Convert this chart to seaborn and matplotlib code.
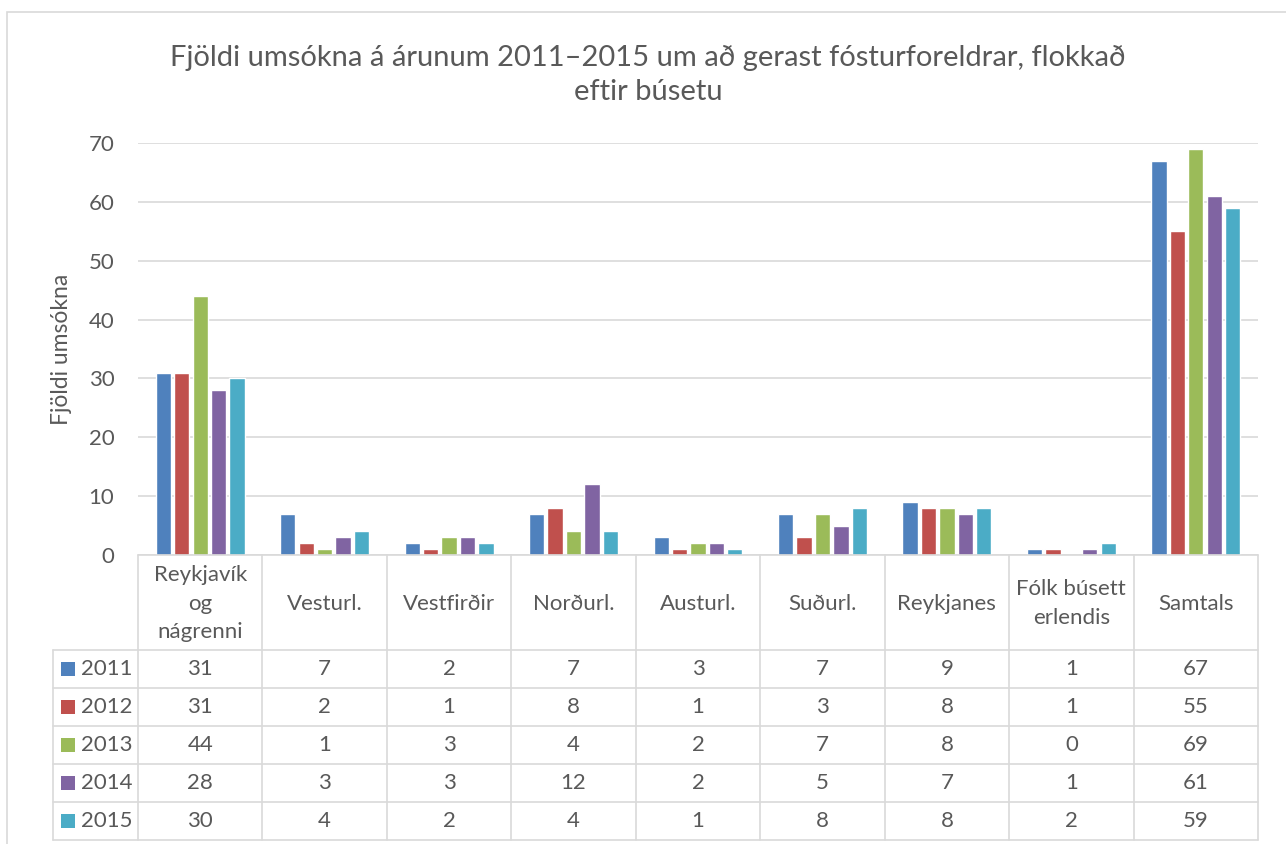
import matplotlib
matplotlib.use("Agg")
import matplotlib.pyplot as plt
from matplotlib.lines import Line2D
from matplotlib.patches import Rectangle
import seaborn as sns
import pandas as pd

categories = ["Reykjavík\nog\nnágrenni", "Vesturl.", "Vestfirðir", "Norðurl.", "Austurl.",
              "Suðurl.", "Reykjanes", "Fólk búsett\nerlendis", "Samtals"]
years = ["2011", "2012", "2013", "2014", "2015"]
v2011 = [31, 7, 2, 7, 3, 7, 9, 1, 67]
v2012 = [31, 2, 1, 8, 1, 3, 8, 1, 55]
v2013 = [44, 1, 3, 4, 2, 7, 8, 0, 69]
v2014 = [28, 3, 3, 12, 2, 5, 7, 1, 61]
v2015 = [30, 4, 2, 4, 1, 8, 8, 2, 59]
series = [v2011, v2012, v2013, v2014, v2015]
colors = ["#4F81BD", "#C0504D", "#9BBB59", "#8064A2", "#4BACC6"]
yticks = [0, 10, 20, 30, 40, 50, 60, 70]
title = "Fjöldi umsókna á árunum 2011–2015 um að gerast fósturforeldrar, flokkað\neftir búsetu"
ylabel = "Fjöldi umsókna"

rows = []
for y, vals in zip(years, series):
    for c, v in zip(categories, vals):
        rows.append({"cat": c, "year": y, "value": v})
df = pd.DataFrame(rows)

sns.set_theme(style="white")
plt.rcParams["font.family"] = ["Lato", "DejaVu Sans"]
TXT = "#595959"
GRID = "#D9D9D9"
FS = 16

W, H = 1286, 844
fig = plt.figure(figsize=(W / 100, H / 100), dpi=100)

def fx(x):
    return x / W

def fy(y):
    return 1 - y / H

L, R, T, B = 138, 1258, 143, 555
ax = fig.add_axes([fx(L), fy(B), fx(R) - fx(L), fy(T) - fy(B)])
sns.barplot(data=df, x="cat", y="value", hue="year", palette=colors,
            width=0.74, gap=0.17, ax=ax, legend=False, saturation=1)
ax.set_ylim(0, 70)
ax.set_xlim(-0.5, len(categories) - 0.5)
ax.set_yticks(yticks)
ax.set_yticklabels([str(t) for t in yticks], color=TXT, fontsize=FS)
ax.tick_params(axis="y", length=0, pad=17)
ax.set_xticks([])
ax.set_xlabel("")
ax.set_ylabel("")
for s in ax.spines.values():
    s.set_visible(False)
ax.yaxis.grid(True, color=GRID, linewidth=1.2)
ax.set_axisbelow(True)

# ylabel
fig.text(fx(62), fy(349), ylabel, rotation=90, ha="center", va="center",
         color=TXT, fontsize=16.5)

# title
fig.text(fx(648), fy(75), title, ha="center", va="center", color=TXT,
         fontsize=21, linespacing=1.4)

# outer border
fig.add_artist(Rectangle((fx(7), fy(900)), fx(1300) - fx(7), fy(12) - fy(900),
                         fill=False, edgecolor=GRID, linewidth=1.2,
                         transform=fig.transFigure))

def hline(x0, x1, y):
    fig.add_artist(Line2D([fx(x0), fx(x1)], [fy(y), fy(y)], color=GRID, lw=1.2,
                          transform=fig.transFigure))

def vline(x, y0, y1):
    fig.add_artist(Line2D([fx(x), fx(x)], [fy(y0), fy(y1)], color=GRID, lw=1.2,
                          transform=fig.transFigure))

ncat = len(categories)
cw = (R - L) / ncat
header_bottom = 650
row_h = 38
table_bottom = header_bottom + row_h * len(years)

hline(L, R, B)
hline(53, R, header_bottom)
for i in range(len(years)):
    hline(53, R, header_bottom + row_h * (i + 1))
for i in range(ncat + 1):
    vline(L + cw * i, B, table_bottom)
vline(53, header_bottom, table_bottom)

# header labels
for i, c in enumerate(categories):
    fig.text(fx(L + cw * (i + 0.5)), fy((B + header_bottom) / 2 + 1), c,
             ha="center", va="center", color=TXT, fontsize=FS, linespacing=1.55)

# rows
for r, (yname, vals, col) in enumerate(zip(years, series, colors)):
    yc = header_bottom + row_h * (r + 0.5)
    fig.add_artist(Rectangle((fx(61), fy(yc + 7)), fx(14), fy(0) - fy(14),
                             facecolor=col, edgecolor="none",
                             transform=fig.transFigure))
    fig.text(fx(81), fy(yc), yname, ha="left", va="center", color=TXT, fontsize=FS)
    for i, v in enumerate(vals):
        fig.text(fx(L + cw * (i + 0.5)), fy(yc), str(v), ha="center", va="center",
                 color=TXT, fontsize=FS)

fig.savefig("out.png", dpi=100, facecolor="white")
